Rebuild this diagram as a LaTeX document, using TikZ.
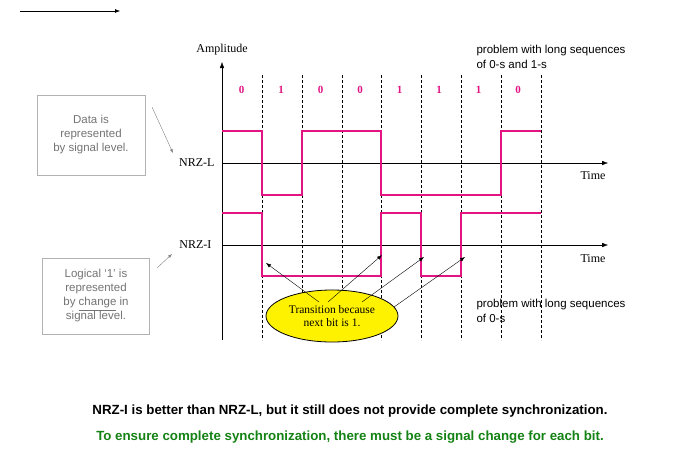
\documentclass[tikz,border=0pt]{standalone}
\usepackage{fontspec}
\setsansfont{Liberation Sans}
\setmainfont{Liberation Serif}
\usetikzlibrary{arrows.meta,shapes.geometric}
\definecolor{sig}{RGB}{225,20,130}
\definecolor{grn}{RGB}{20,130,20}
\begin{document}
\begin{tikzpicture}[x=1pt,y=-1pt,
 sigl/.style={sig,line width=2.4pt},
 ax/.style={-{Latex[length=6pt]},thin},
 bitsep/.style={densely dashed,thin},
 gbox/.style={draw=gray!60,line width=0.8pt,font=\sffamily\fontsize{11.5}{14}\selectfont,text=gray!90!black,align=center},
 lbl/.style={font=\fontsize{12}{14}\selectfont},
 bit/.style={sig,font=\bfseries\fontsize{11}{12}\selectfont},
 note/.style={font=\sffamily\fontsize{11.5}{14.5}\selectfont,align=left,anchor=west}]
\useasboundingbox (0,0) rectangle (700,453);
\draw[-{Latex[length=5pt]}] (20,11) -- (120,11);
\coordinate (a0) at (222,340); \coordinate (a1) at (222,62);
\draw[ax] (a0) -- (a1);
\node[lbl] (amp) at (222,50) {Amplitude};
\foreach \x in {262,302,342,381,421,461,501,541} \draw[bitsep] (\x,75) -- (\x,340);
\foreach \b [count=\i] in {0,1,0,0,1,1,1,0} \node[bit] (b\i) at (242-40+40*\i-0.5*\i,90) {\b};
\coordinate (l0) at (222,163); \coordinate (l1) at (608,163);
\draw[ax] (l0) -- (l1);
\coordinate (i0) at (222,245); \coordinate (i1) at (608,245);
\draw[ax] (i0) -- (i1);
\node[lbl,anchor=east] (nl) at (218,163) {NRZ-L};
\node[lbl,anchor=east] (ni) at (215,245) {NRZ-I};
\node[lbl] (t1) at (593,176) {Time};
\node[lbl] (t2) at (593,259) {Time};
\draw[sigl] (222,131) -| (262,195) -| (302,131) -| (381,195) -| (501,131) -- (541,131);
\draw[sigl] (222,213) -| (262,276) -| (381,213) -| (421,276) -| (461,213) -- (541,213);
\node[gbox,minimum width=108pt,minimum height=80pt] (box1) at (91,135) {Data is\\represented\\by signal level.};
\node[gbox,minimum width=107pt,minimum height=76pt] (box2) at (96,296) {Logical `1' is\\represented\\by \underline{change} in\\signal level.};
\draw[gray,-{Latex[length=4pt]}] (152,107) -- (173,153);
\draw[gray,-{Latex[length=4pt]}] (157,268) -- (172,254);
\node[ellipse,draw,fill=yellow,line width=0.8pt,minimum width=132pt,minimum height=52pt,align=center,font=\fontsize{11.5}{13}\selectfont,inner sep=0pt] (tr) at (332,316) {Transition because\\next bit is 1.};
\coordinate (p1) at (266,263); \coordinate (p2) at (382,255);
\coordinate (p3) at (424,257); \coordinate (p4) at (465,257);
\draw[-{Latex[length=5pt]}] (319,302) -- (p1);
\draw[-{Latex[length=5pt]}] (328,302) -- (p2);
\draw[-{Latex[length=5pt]}] (362,302) -- (p3);
\draw[-{Latex[length=5pt]}] (394,307) -- (p4);
\node[note] (n1) at (473,57) {problem with long sequences\\of 0-s and 1-s};
\node[note] (n2) at (473,311) {problem with long sequences\\of 0-s};
\node[font=\sffamily\bfseries\fontsize{13.3}{15}\selectfont] (m1) at (350,411) {NRZ-I is better than NRZ-L, but it still does not provide complete synchronization.};
\node[font=\sffamily\bfseries\fontsize{13.3}{15}\selectfont,text=grn] (m2) at (350,437) {To ensure complete synchronization, there must be a signal change for each bit.};
\end{tikzpicture}
\end{document}
